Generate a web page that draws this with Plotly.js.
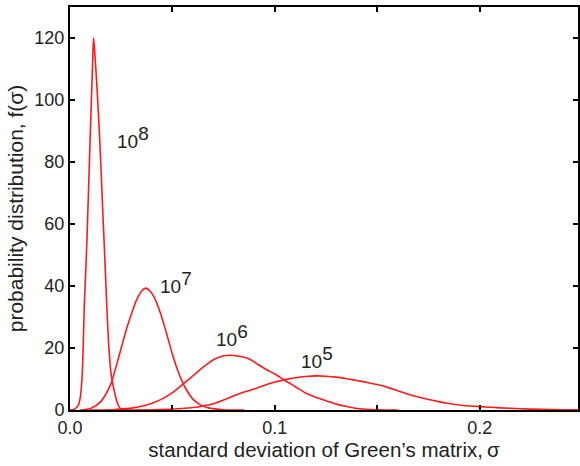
<!DOCTYPE html>
<html>
<head>
<meta charset="utf-8">
<script src="https://cdn.plot.ly/plotly-3.0.1.min.js"></script>
<style>html,body{margin:0;padding:0;background:#fff}#chart{width:580px;height:466px}</style>
</head>
<body>
<div id="chart"></div>
<script>
// sigma values and densities
const x1e8 = [0.000, 0.002, 0.004, 0.005, 0.006, 0.007, 0.008, 0.009, 0.010, 0.011, 0.0115, 0.012, 0.013, 0.014, 0.015, 0.016, 0.017, 0.018, 0.019, 0.020, 0.021, 0.022, 0.023, 0.024, 0.025, 0.027, 0.030];
const y1e8 = [0, 0.2, 1.5, 4, 12, 34, 50, 70, 91, 111, 120, 116, 106, 94, 80, 64, 49, 33, 20, 12, 8, 5, 2.5, 1, 0.3, 0.05, 0];

const x1e7 = [0.005, 0.010, 0.015, 0.020, 0.0225, 0.025, 0.0275, 0.030, 0.0325, 0.035, 0.037, 0.039, 0.041, 0.044, 0.047, 0.050, 0.053, 0.056, 0.060, 0.064, 0.068, 0.075, 0.085];
const y1e7 = [0, 0.5, 2.7, 8.5, 14, 20, 26, 31, 35.5, 38.4, 39.3, 38.4, 36.5, 31.5, 25, 18, 12, 7.5, 3.5, 1.5, 0.6, 0.1, 0];

const x1e6 = [0.010, 0.020, 0.030, 0.035, 0.040, 0.045, 0.050, 0.055, 0.060, 0.065, 0.070, 0.075, 0.080, 0.085, 0.088, 0.092, 0.096, 0.100, 0.105, 0.110, 0.115, 0.120, 0.125, 0.130, 0.135, 0.140, 0.150, 0.160];
const y1e6 = [0, 0.1, 0.6, 1.2, 2.2, 3.6, 5.6, 8.3, 11, 13.8, 16.2, 17.5, 17.6, 17, 16.3, 14.6, 13, 11.6, 9.5, 7.5, 5.5, 4.1, 3, 1.9, 1.1, 0.5, 0.1, 0];

const x1e5 = [0.030, 0.040, 0.050, 0.060, 0.065, 0.070, 0.075, 0.080, 0.085, 0.090, 0.095, 0.100, 0.105, 0.110, 0.115, 0.120, 0.125, 0.130, 0.135, 0.140, 0.145, 0.150, 0.155, 0.160, 0.165, 0.170, 0.175, 0.180, 0.185, 0.190, 0.195, 0.200, 0.210, 0.220, 0.230, 0.240, 0.248];
const y1e5 = [0, 0.1, 0.3, 0.8, 1.3, 2, 3.2, 4.6, 5.8, 6.8, 8, 9, 9.8, 10.4, 10.8, 11, 10.9, 10.6, 10.1, 9.5, 8.9, 8.2, 7.3, 6.2, 5.1, 4.2, 3.4, 2.7, 2.1, 1.6, 1.3, 1.1, 0.7, 0.4, 0.2, 0.1, 0.05];

const labelBase = ['10', '10', '10', '10'];
const labelExp = ['8', '7', '6', '5'];
const labelX = [0.0307, 0.0516, 0.0793, 0.1207];
const labelY = [88, 41, 24, 17];

const xTickVals = [0, 0.05, 0.1, 0.15, 0.2];
const xTickText = ['0.0', '', '0.1', '', '0.2'];

const FAM = 'Liberation Sans, Arial, Helvetica, sans-serif';
const series = [[x1e8, y1e8], [x1e7, y1e7], [x1e6, y1e6], [x1e5, y1e5]];
const traces = series.map(s => ({
  x: s[0], y: s[1], type: 'scatter', mode: 'lines',
  line: {color: '#ff1a1a', width: 1.6, shape: 'spline', smoothing: 0.8},
  hoverinfo: 'skip', showlegend: false
}));

const annotations = labelBase.map((b, i) => ({
  x: labelX[i], y: labelY[i], xref: 'x', yref: 'y',
  text: b + '<sup><span style="font-size:19px">' + labelExp[i] + '</span></sup>',
  showarrow: false,
  font: {family: FAM, size: 19, color: '#222'}
}));

const layout = {
  width: 580, height: 466,
  margin: {l: 70, r: 2, t: 7, b: 56},
  paper_bgcolor: '#fff', plot_bgcolor: '#fff',
  font: {family: FAM, size: 18, color: '#222'},
  showlegend: false,
  xaxis: {
    range: [0, 0.248], tickvals: xTickVals, ticktext: xTickText,
    ticks: 'inside', ticklen: 5, tickwidth: 2, tickcolor: '#000',
    showline: true, linewidth: 2, linecolor: '#000', mirror: 'ticks',
    showgrid: false, zeroline: false,
    tickfont: {family: FAM, size: 18, color: '#222'},
    title: {text: 'standard deviation of Green\u2019s matrix,\u2009\u03c3', standoff: 5,
            font: {family: FAM, size: 20.5, color: '#222'}}
  },
  yaxis: {
    range: [0, 130], dtick: 20, tick0: 0,
    ticks: 'inside', ticklen: 5, tickwidth: 2, tickcolor: '#000',
    showline: true, linewidth: 2, linecolor: '#000', mirror: 'ticks',
    showgrid: false, zeroline: false,
    tickfont: {family: FAM, size: 18, color: '#222'},
    title: {text: 'probability distribution, f(\u03c3)', standoff: 5,
            font: {family: FAM, size: 21, color: '#222'}}
  },
  annotations: annotations
};

Plotly.newPlot('chart', traces, layout, {staticPlot: true, displayModeBar: false});
</script>
</body>
</html>
